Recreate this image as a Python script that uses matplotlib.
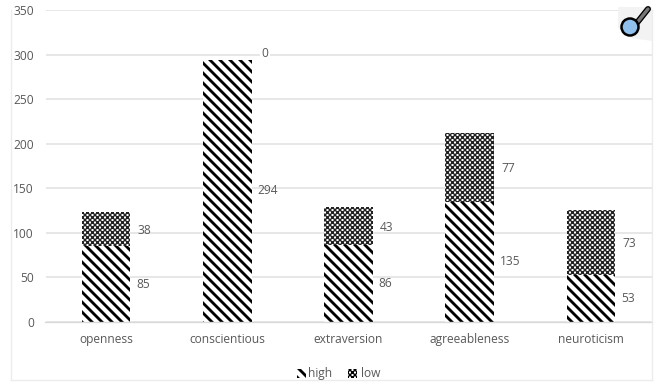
import matplotlib
matplotlib.use("Agg")
import matplotlib.pyplot as plt
from matplotlib.patches import Circle, Rectangle, Polygon
from matplotlib.lines import Line2D
import numpy as np
import types

categories = ["openness", "conscientious", "extraversion", "agreeableness", "neuroticism"]
high = [85, 294, 86, 135, 53]
low = [38, 0, 43, 77, 73]
y_ticks = [0, 50, 100, 150, 200, 250, 300, 350]

W, H, DPI = 660, 383, 120
plt.rcParams["font.family"] = ["Open Sans", "DejaVu Sans"]
TXT = "#595959"
FS = 7.2
HATCH_HIGH = "\\" * 4
HATCH_LOW = "x" * 8
LW_HIGH = 1.7
LW_LOW = 0.85

def with_hatch_lw(patch, lw):
    patch._hatch_linewidth = lw
    orig = patch.draw
    def draw(self, renderer):
        old = plt.rcParams["hatch.linewidth"]
        plt.rcParams["hatch.linewidth"] = lw
        orig(renderer)
        plt.rcParams["hatch.linewidth"] = old
    patch.draw = types.MethodType(draw, patch)
    return patch

fig = plt.figure(figsize=(W / DPI, H / DPI), dpi=DPI, facecolor="white")
ax = fig.add_axes([45.5 / W, 1 - 322 / H, 606 / W, 312 / H])
x = np.arange(len(categories))
ax.set_xlim(-0.5, 4.5)
ax.set_ylim(0, 350)
ax.set_facecolor("none")
ax.grid(axis="y", color="#e3e3e3", lw=1.0)
ax.set_axisbelow(True)
ax.set_yticks(y_ticks)
ax.set_xticks(x, categories)
ax.tick_params(length=0, labelsize=FS, labelcolor=TXT)
ax.tick_params(axis="x", pad=6.5)
ax.tick_params(axis="y", pad=7)
for s in ax.spines.values():
    s.set_visible(False)
ax.spines["bottom"].set_visible(True)
ax.spines["bottom"].set_color("#d9d9d9")

w = 0.4
for b in ax.bar(x, high, w, color="white", edgecolor="black", hatch=HATCH_HIGH, lw=0):
    with_hatch_lw(b, LW_HIGH)
for b in ax.bar(x, low, w, bottom=high, color="white", edgecolor="#222222", hatch=HATCH_LOW, lw=0):
    with_hatch_lw(b, LW_LOW)

for i in range(len(categories)):
    ax.annotate(str(high[i]), (x[i] + w / 2, high[i] / 2), xytext=(3.5, 0),
                textcoords="offset points", va="center", ha="left", fontsize=FS, color=TXT)
    if low[i] > 0:
        ax.annotate(str(low[i]), (x[i] + w / 2, high[i] + low[i] / 2), xytext=(4.5, -0.5),
                    textcoords="offset points", va="center", ha="left", fontsize=FS, color=TXT)
    else:
        ax.annotate(str(low[i]), (x[i] + w / 2, high[i]), xytext=(6, 4),
                    textcoords="offset points", va="center", ha="left", fontsize=FS, color=TXT,
                    bbox=dict(fc="white", ec="none", pad=1))

def fx(px): return px / W
def fy(py): return 1 - py / H

fig.add_artist(Line2D([fx(11), fx(11)], [fy(10), fy(380)], color="#ececec", lw=0.8))
fig.add_artist(Line2D([fx(11), fx(652)], [fy(380), fy(380)], color="#ececec", lw=0.8))
fig.add_artist(Line2D([fx(652), fx(652)], [fy(10), fy(380)], color="#ececec", lw=0.8))

for (x0, x1, hatch_, lw_, tx, label) in [(297, 306, HATCH_HIGH, LW_HIGH, 308, "high"),
                                         (348, 357, HATCH_LOW, LW_LOW, 361, "low")]:
    r = Rectangle((fx(x0), fy(378)), (x1 - x0) / W, 9 / H, transform=fig.transFigure,
                  fc="white", ec="black", lw=0, hatch=hatch_)
    fig.add_artist(with_hatch_lw(r, lw_))
    fig.text(fx(tx), fy(373.5), label, fontsize=FS, color=TXT, va="center", ha="left")

fig.add_artist(Polygon([(fx(618), fy(7)), (fx(652), fy(7)), (fx(652), fy(41)), (fx(632), fy(38)), (fx(618), fy(28))],
                       closed=True, transform=fig.transFigure, fc="#f3f3f3", ec="none"))
fig.add_artist(Line2D([fx(636), fx(648)], [fy(24), fy(9)], color="black", lw=3.6, solid_capstyle="round"))
fig.add_artist(Line2D([fx(636), fx(648)], [fy(24), fy(9)], color="#777777", lw=2.0, solid_capstyle="round"))
icon_ax = fig.add_axes([fx(620), fy(37), 20 / W, 20 / H], zorder=5)
icon_ax.set_xlim(0, 20); icon_ax.set_ylim(0, 20); icon_ax.axis("off")
icon_ax.add_patch(Circle((10, 10), 8.5, fc="#8fc1ec", ec="black", lw=1.5, clip_on=False))

fig.savefig("out.png", dpi=DPI, facecolor="white")
